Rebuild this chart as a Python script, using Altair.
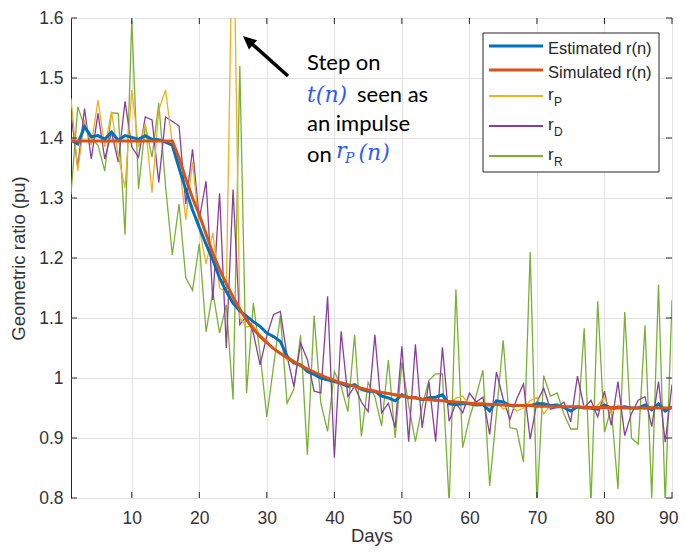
import altair as alt
import pandas as pd

# ---------------- data ----------------
days = list(range(1, 91))

estimated = [1.396, 1.390, 1.419, 1.402, 1.404, 1.398, 1.410, 1.396, 1.404, 1.401,
             1.398, 1.404, 1.398, 1.397, 1.393, 1.388, 1.350, 1.314, 1.280, 1.251,
             1.223, 1.197, 1.167, 1.144, 1.125, 1.112, 1.103, 1.094, 1.086, 1.075,
             1.069, 1.061, 1.036, 1.025, 1.022, 1.011, 1.006, 1.000, 0.997, 0.994,
             0.991, 0.986, 0.989, 0.981, 0.978, 0.978, 0.970, 0.967, 0.962, 0.972,
             0.967, 0.967, 0.964, 0.967, 0.968, 0.972, 0.957, 0.956, 0.957, 0.957,
             0.955, 0.956, 0.945, 0.962, 0.960, 0.954, 0.954, 0.954, 0.954, 0.957,
             0.957, 0.954, 0.954, 0.951, 0.945, 0.952, 0.950, 0.950, 0.948, 0.955,
             0.950, 0.950, 0.952, 0.950, 0.950, 0.955, 0.947, 0.957, 0.945, 0.952]

simulated = [1.395, 1.395, 1.395, 1.395, 1.395, 1.395, 1.395, 1.395, 1.395, 1.395,
             1.395, 1.395, 1.395, 1.395, 1.395, 1.395, 1.367, 1.332, 1.300, 1.272,
             1.240, 1.208, 1.181, 1.157, 1.135, 1.115, 1.097, 1.082, 1.069, 1.059,
             1.049, 1.041, 1.034, 1.027, 1.021, 1.015, 1.010, 1.005, 1.000, 0.996,
             0.992, 0.989, 0.986, 0.983, 0.980, 0.978, 0.976, 0.974, 0.972, 0.970,
             0.968, 0.967, 0.965, 0.964, 0.963, 0.962, 0.961, 0.960, 0.959, 0.958,
             0.957, 0.957, 0.956, 0.956, 0.955, 0.955, 0.954, 0.954, 0.954, 0.953,
             0.953, 0.953, 0.952, 0.952, 0.952, 0.952, 0.951, 0.951, 0.951, 0.951,
             0.951, 0.951, 0.950, 0.950, 0.950, 0.950, 0.950, 0.950, 0.950, 0.950]

r_p = [1.466, 1.345, 1.430, 1.388, 1.463, 1.385, 1.444, 1.370, 1.317, 1.480,
       1.385, 1.424, 1.309, 1.447, 1.480, 1.392, 1.360, 1.264, 1.360, 1.250,
       1.190, 1.242, 1.150, 1.142, 1.820, 1.100, 1.085, 1.088, 1.072, 1.062,
       1.048, 1.043, 1.030, 1.030, 1.018, 1.016, 1.008, 1.006, 0.998, 0.997,
       0.990, 0.990, 0.984, 0.984, 0.978, 0.979, 0.974, 0.975, 0.970, 0.971,
       0.966, 0.968, 0.963, 0.965, 0.961, 0.963, 0.958, 0.966, 0.970, 0.955,
       0.958, 0.955, 0.952, 0.962, 0.948, 0.955, 0.945, 0.950, 0.962, 0.968,
       0.940, 0.955, 0.958, 0.950, 0.953, 0.950, 0.954, 0.948, 0.955, 0.968,
       0.940, 0.955, 0.952, 0.950, 0.952, 0.948, 0.953, 0.950, 0.948, 0.952]

r_d = [1.441, 1.351, 1.449, 1.365, 1.441, 1.365, 1.410, 1.360, 1.461, 1.385,
       1.368, 1.435, 1.430, 1.326, 1.435, 1.428, 1.420, 1.290, 1.381, 1.265,
       1.328, 1.130, 1.308, 1.050, 1.314, 1.089, 1.103, 1.075, 1.022, 1.070,
       1.106, 1.111, 1.036, 0.986, 1.058, 1.031, 0.978, 0.975, 1.136, 0.867,
       1.078, 0.969, 0.986, 0.960, 0.944, 1.072, 0.942, 0.958, 0.917, 1.053,
       0.894, 1.056, 0.917, 0.994, 0.894, 1.051, 0.928, 0.958, 0.942, 0.975,
       0.960, 0.968, 0.906, 1.010, 0.965, 0.931, 0.965, 0.990, 0.898, 0.960,
       0.983, 0.948, 0.951, 0.960, 0.927, 1.003, 0.950, 0.963, 0.935, 0.978,
       0.921, 0.994, 0.904, 0.941, 0.963, 0.969, 0.919, 0.994, 0.893, 0.989]

r_r = [1.306, 1.452, 1.419, 1.400, 1.388, 1.345, 1.442, 1.441, 1.239, 1.596,
       1.315, 1.421, 1.368, 1.458, 1.320, 1.205, 1.290, 1.167, 1.146, 1.224,
       1.077, 1.144, 1.075, 1.122, 0.964, 1.520, 0.975, 1.125, 1.040, 0.935,
       1.020, 1.104, 0.958, 0.981, 1.071, 0.872, 1.104, 0.958, 0.911, 1.011,
       0.986, 0.944, 1.072, 0.903, 0.993, 0.969, 0.920, 1.030, 0.900, 1.026,
       0.955, 0.894, 0.953, 0.996, 1.007, 1.007, 0.790, 1.148, 0.884, 0.933,
       0.970, 1.013, 0.820, 0.940, 1.063, 0.917, 0.915, 0.860, 1.210, 0.790,
       1.004, 0.970, 0.975, 0.940, 0.915, 0.915, 1.083, 0.790, 1.128, 0.910,
       0.950, 0.815, 1.110, 0.900, 0.890, 1.088, 0.800, 1.156, 0.790, 1.130]

series_keys = ["est", "sim", "rP", "rD", "rR"]
series_values = [estimated, simulated, r_p, r_d, r_r]
legend_main = ["Estimated r(n)", "Simulated r(n)", "r", "r", "r"]
legend_sub = ["", "", "P", "D", "R"]

x_ticks = [10, 20, 30, 40, 50, 60, 70, 80, 90]
y_ticks = [0.8, 0.9, 1.0, 1.1, 1.2, 1.3, 1.4, 1.5, 1.6]

# ---------------- styles ----------------
colors = {"est": "#0072BD", "sim": "#D95319", "rP": "#EDB120", "rD": "#8A3E9C", "rR": "#7AB034"}
widths = {"est": 3, "sim": 3, "rP": 1.3, "rD": 1.3, "rR": 1.3}
AX = "#262626"
FONT = "Liberation Sans"
W, H = 601, 480

df = pd.DataFrame({
    "day": days * len(series_keys),
    "value": sum(series_values, []),
    "series": sum([[k] * len(days) for k in series_keys], []),
})

xscale = alt.Scale(domain=[1, 90], nice=False, zero=False)
yscale = alt.Scale(domain=[0.8, 1.6], nice=False, zero=False)

x_enc = alt.X("day:Q", scale=xscale,
              axis=alt.Axis(values=x_ticks, title="Days", grid=True, labelPadding=11,
                            titleY=43, titleBaseline="alphabetic",
                            labelFlush=True, labelFlushOffset=6))
y_enc = alt.Y("value:Q", scale=yscale,
              axis=alt.Axis(values=y_ticks, title="Geometric ratio (pu)", grid=True,
                            format=".1~f", labelPadding=8, titlePadding=10))

layers = []
for key in ["rR", "rD", "rP", "est", "sim"]:
    layers.append(
        alt.Chart(df).transform_filter(alt.datum.series == key)
        .mark_line(clip=True, color=colors[key], strokeWidth=widths[key])
        .encode(x=x_enc, y=y_enc)
    )

# inward ticks (MATLAB style box)
tx = pd.DataFrame({"day": x_ticks})
ty = pd.DataFrame({"value": y_ticks})
tl = 6
layers.append(alt.Chart(tx).mark_rule(color=AX, strokeWidth=1).encode(
    x=x_enc, y=alt.value(H), y2=alt.value(H - tl)))
layers.append(alt.Chart(tx).mark_rule(color=AX, strokeWidth=1).encode(
    x=x_enc, y=alt.value(0), y2=alt.value(tl)))
layers.append(alt.Chart(ty).mark_rule(color=AX, strokeWidth=1).encode(
    y=y_enc, x=alt.value(0), x2=alt.value(tl)))
layers.append(alt.Chart(ty).mark_rule(color=AX, strokeWidth=1).encode(
    y=y_enc, x=alt.value(W), x2=alt.value(W - tl)))

dummy = pd.DataFrame({"k": [0]})

# legend box
layers.append(alt.Chart(dummy).mark_rect(fill="white", stroke=AX, strokeWidth=1).encode(
    x=alt.value(412), x2=alt.value(588), y=alt.value(15), y2=alt.value(154)))
row_y = [28, 52, 78, 108, 138]
for key, yy, main, sub in zip(series_keys, row_y, legend_main, legend_sub):
    layers.append(alt.Chart(dummy).mark_rule(color=colors[key], strokeWidth=widths[key] + (0.5 if widths[key] < 2 else 0)).encode(
        x=alt.value(418), x2=alt.value(472), y=alt.value(yy), y2=alt.value(yy)))
    if sub:
        layers.append(alt.Chart(dummy).mark_text(text=main, align="left", baseline="alphabetic",
                                                  font=FONT, fontSize=17, color=AX).encode(
            x=alt.value(477), y=alt.value(yy + 4)))
        layers.append(alt.Chart(dummy).mark_text(text=sub, align="left", baseline="alphabetic",
                                                  font=FONT, fontSize=12, color=AX).encode(
            x=alt.value(483), y=alt.value(yy + 10)))
    else:
        layers.append(alt.Chart(dummy).mark_text(text=main, align="left", baseline="alphabetic",
                                                  font=FONT, fontSize=16.5, color=AX).encode(
            x=alt.value(477), y=alt.value(yy + 8)))

# annotation arrow
layers.append(alt.Chart(dummy).mark_rule(color="black", strokeWidth=3.5).encode(
    x=alt.value(217), y=alt.value(58), x2=alt.value(180), y2=alt.value(25)))
layers.append(alt.Chart(dummy).mark_point(shape="M0,0L0.55,1.2L-0.55,1.2Z", filled=True, opacity=1,
                                           color="black", size=500, angle=311.6).encode(
    x=alt.value(172), y=alt.value(18)))

# annotation text
ANN = "Lato"
MATH = "DejaVu Serif"
BLUE = "#2F5BF5"
def txt(t, x, y, font=ANN, size=22, color="black", style="normal"):
    return alt.Chart(dummy).mark_text(text=t, align="left", baseline="alphabetic", font=font,
                                      fontSize=size, color=color, fontStyle=style).encode(
        x=alt.value(x), y=alt.value(y))

layers += [
    txt("Step on", 236, 52),
    txt("t(n)", 236, 84, font=MATH, size=22, color=BLUE, style="italic"),
    txt("seen as", 286, 84),
    txt("an impulse", 236, 113),
    txt("on", 236, 144),
    txt("r", 265, 140, font=MATH, size=22, color=BLUE, style="italic"),
    txt("P", 274, 145, font=MATH, size=14, color=BLUE, style="italic"),
    txt("(n)", 287.5, 142, font=MATH, size=22, color=BLUE, style="italic"),
]

chart = alt.layer(*layers).properties(
    width=W, height=H,
    autosize=alt.AutoSizeParams(type="none"),
    padding={"left": 63, "top": 10, "right": 6, "bottom": 49},
).configure_view(stroke=AX, strokeWidth=1).configure_axis(
    labelFont=FONT, titleFont=FONT, labelFontSize=17.5, titleFontSize=18.5,
    labelColor="#333333", titleColor="#333333", titleFontWeight="normal",
    gridColor="#e2e2e2", gridWidth=1, domain=False, ticks=False, tickSize=0,
)

chart.save("out.html", embed_options={"renderer": "svg", "actions": False})
